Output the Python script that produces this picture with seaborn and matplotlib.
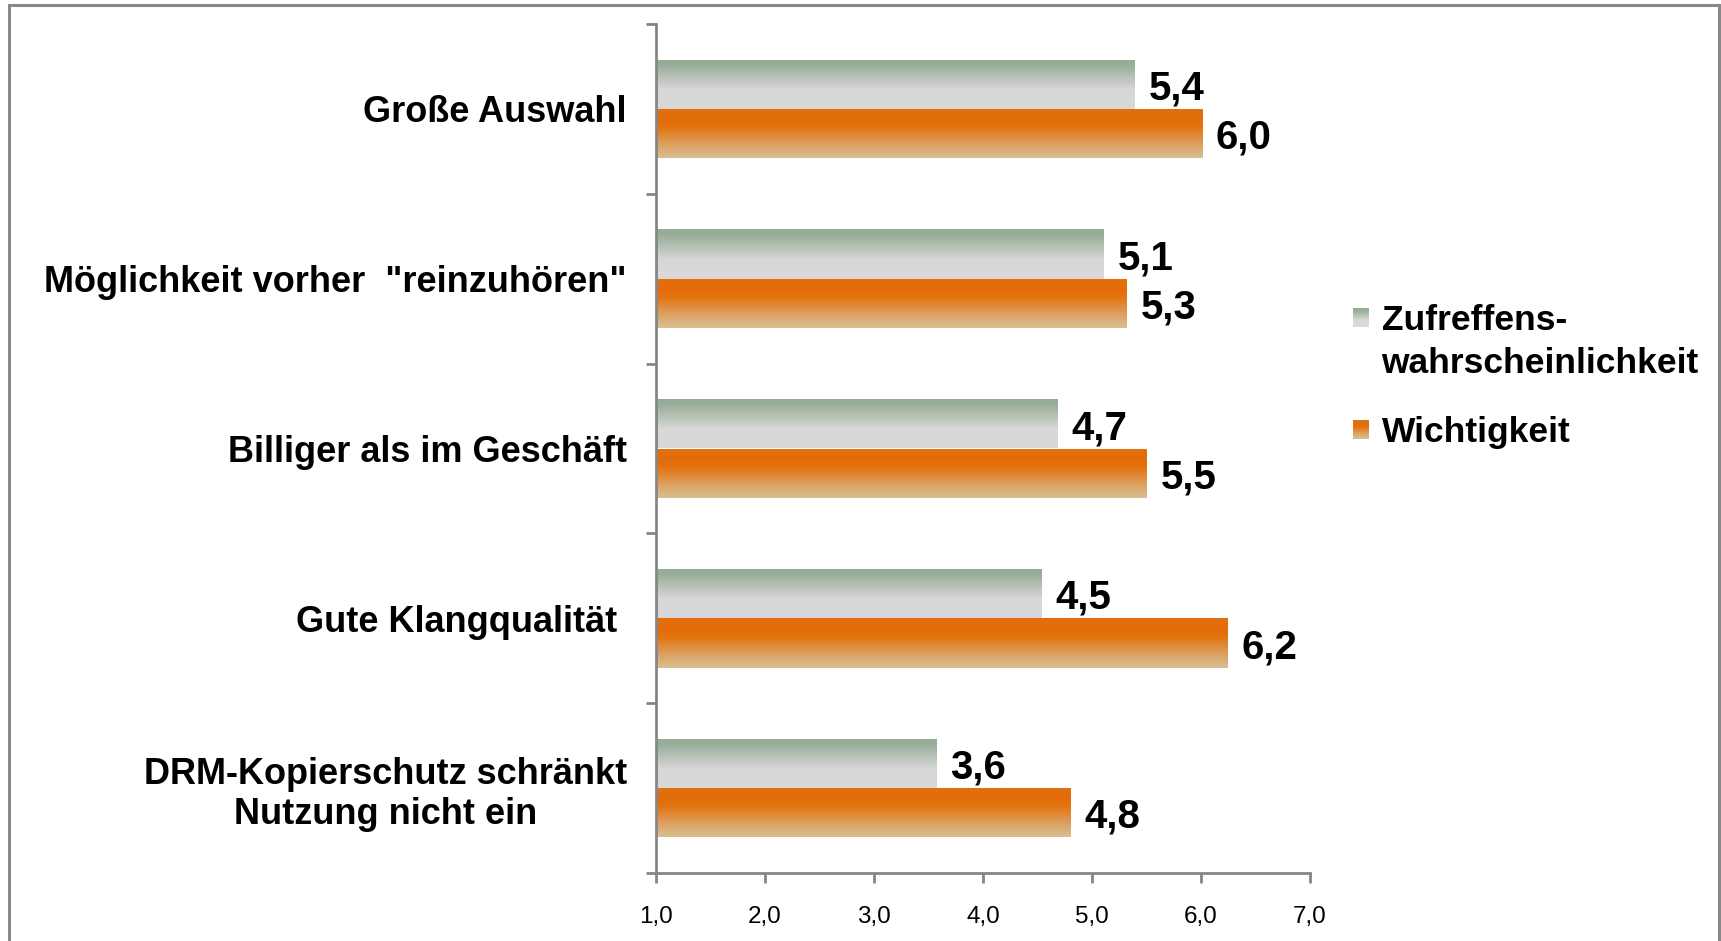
import numpy as np
import pandas as pd
import matplotlib
matplotlib.use("Agg")
import matplotlib.pyplot as plt
import seaborn as sns
from matplotlib import font_manager
from matplotlib.colors import LinearSegmentedColormap
from matplotlib.patches import Patch, Rectangle
from matplotlib.legend_handler import HandlerBase


# -------------------------------
# DATA
# -------------------------------
categories = [
    "Große Auswahl",
    'Möglichkeit vorher  "reinzuhören"',
    "Billiger als im Geschäft",
    "Gute Klangqualität ",
    "DRM-Kopierschutz schränkt\nNutzung nicht ein",
]
series = ["Zufreffens-\nwahrscheinlichkeit", "Wichtigkeit"]
zutreffen = [5.39, 5.11, 4.68, 4.54, 3.57]
wichtigkeit = [6.01, 5.32, 5.50, 6.24, 4.80]
x_ticks = [1, 2, 3, 4, 5, 6, 7]
x_tick_labels = ["1,0", "2,0", "3,0", "4,0", "5,0", "6,0", "7,0"]


# -------------------------------
# STYLE
# -------------------------------
sns.set_theme(style="white")

names = {f.name for f in font_manager.fontManager.ttflist}
narrow = "Liberation Sans Narrow" in names
if narrow:
    family = ["Liberation Sans Narrow", "Liberation Sans", "DejaVu Sans"]
    cat_fs, val_fs, leg_fs, tick_fs = 32, 35, 31, 20
else:
    family = ["Liberation Sans", "DejaVu Sans"]
    cat_fs, val_fs, leg_fs, tick_fs = 26, 29, 25.5, 17.5
plt.rcParams["font.family"] = family
plt.rcParams["text.color"] = "black"

axis_grey = "#868686"

green_cmap = LinearSegmentedColormap.from_list(
    "gruen", [(0, "#97AC97"), (0.12, "#98AD98"), (0.62, "#D8D8D8"), (1, "#D9D9D9")])
orange_cmap = LinearSegmentedColormap.from_list(
    "orange", [(0, "#E2700F"), (0.2, "#E36C0A"), (0.38, "#E3730F"),
               (0.72, "#DDA060"), (1, "#D8BF93")])
cmaps = [green_cmap, orange_cmap]


class GradientHandler(HandlerBase):
    def __init__(self, cmap, yshift=0):
        super().__init__()
        self.cmap = cmap
        self.yshift = yshift

    def create_artists(self, legend, orig_handle, xdescent, ydescent,
                       width, height, fontsize, trans):
        n = 24
        out = []
        for i in range(n):
            r = Rectangle((-xdescent, -ydescent + self.yshift + height * (1 - (i + 1) / n)),
                          width, height / n + 0.05, facecolor=self.cmap(i / (n - 1)),
                          edgecolor="none", transform=trans)
            out.append(r)
        return out


# -------------------------------
# PLOT
# -------------------------------
df = pd.DataFrame({
    "Kategorie": categories * 2,
    "Reihe": [series[0]] * len(categories) + [series[1]] * len(categories),
    "Wert": zutreffen + wichtigkeit,
})

W, H = 1721, 941
fig = plt.figure(figsize=(W / 100, H / 100), dpi=100)
ax = fig.add_axes([656 / W, 68 / H, (1310 - 656) / W, (941 - 68 - 24) / H])

sns.barplot(data=df, y="Kategorie", x="Wert", hue="Reihe", order=categories,
            hue_order=series, orient="h", width=0.58, dodge=True, legend=False,
            palette=["#97AC97", "#E36C0A"], saturation=1, edgecolor="none",
            linewidth=0, ax=ax)

grad = np.linspace(0, 1, 256).reshape(-1, 1)
x_min = x_ticks[0]
for cont, cmap in zip(ax.containers, cmaps):
    for bar in cont:
        val = bar.get_x() + bar.get_width()
        # bars start at the axis origin (1,0)
        bar.set_x(x_min)
        bar.set_width(val - x_min)
        y0 = bar.get_y()
        h = bar.get_height()
        bar.set_facecolor("none")
        im = ax.imshow(grad, extent=[x_min, val, y0 + h, y0], origin="upper",
                       aspect="auto", cmap=cmap, zorder=2, interpolation="bilinear")
        im.set_clip_path(bar)
        ax.annotate(f"{val:.1f}".replace(".", ","), xy=(val, y0 + h / 2),
                    xytext=(10, -3), textcoords="offset points", ha="left",
                    va="center", fontsize=val_fs, fontweight="bold", color="black")

ax.set_xlim(1, 7)
ax.set_ylim(4.5, -0.5)
ax.set_xlabel("")
ax.set_ylabel("")

ax.set_xticks(x_ticks)
ax.set_xticklabels(x_tick_labels, fontsize=tick_fs, color="black")
ax.set_yticks(range(len(categories)))
ax.set_yticklabels(categories, fontsize=cat_fs, fontweight="bold", color="black")
for t in ax.get_yticklabels():
    t.set_multialignment("center")
ax.set_yticks(np.arange(-0.5, len(categories), 1.0), minor=True)

ax.tick_params(axis="x", which="major", bottom=True, direction="out", length=7,
               width=2, color=axis_grey, pad=17)
ax.tick_params(axis="y", which="major", left=False, length=0, pad=21)
ax.tick_params(axis="y", which="minor", left=True, direction="out", length=7,
               width=2, color=axis_grey)

for side in ["top", "right"]:
    ax.spines[side].set_visible(False)
for side in ["left", "bottom"]:
    ax.spines[side].set_color(axis_grey)
    ax.spines[side].set_linewidth(2)
ax.grid(False)

# legend
h1 = Patch(label=series[0])
h2 = Patch(label=series[1])
hs = 11.6 / leg_fs
leg = ax.legend(handles=[h1, h2], labels=series,
                handler_map={h1: GradientHandler(green_cmap, 0.7 * leg_fs),
                             h2: GradientHandler(orange_cmap, 0)},
                loc="upper left", bbox_to_anchor=(1353 / W, 1 - 304 / H),
                bbox_transform=fig.transFigure, frameon=False, borderpad=0,
                borderaxespad=0, handlelength=hs, handleheight=hs,
                handletextpad=0.35, labelspacing=1.0, labelcolor="black",
                prop={"size": leg_fs, "weight": "bold"})
for t in leg.get_texts():
    t.set_linespacing(1.4)

# outer frame
fig.patches.append(Rectangle((9 / W, -0.1), (1719 - 9) / W, 1.1 - 5 / H,
                             transform=fig.transFigure, fill=False,
                             edgecolor="#888888", linewidth=2.2))

fig.savefig("out.png", dpi=100)
